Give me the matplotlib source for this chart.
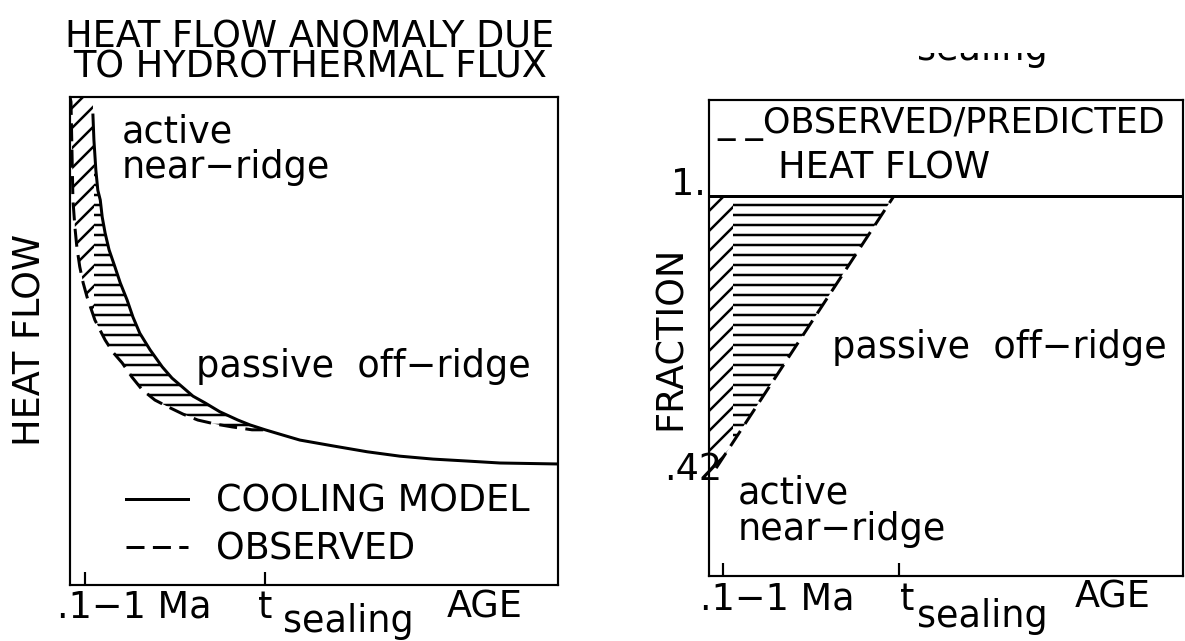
import matplotlib
matplotlib.use("Agg")
import matplotlib.pyplot as plt
from matplotlib.patches import Polygon, Rectangle
from matplotlib.transforms import Bbox, TransformedBbox

# ---------------- data ----------------
# left panel: heat flow vs age (arbitrary units)
cooling_age = [0.47, 0.49, 0.53, 0.57, 0.62, 0.66, 0.72, 0.80, 0.92, 1.03, 1.17,
               1.29, 1.43, 1.64, 1.89, 2.09, 2.30, 2.52, 2.77, 3.07, 3.44, 3.69,
               4.00, 4.37, 4.71, 5.39, 6.09, 6.76, 7.44, 8.14, 8.81, 10.0]
cooling_hf = [9.63, 9.12, 8.50, 8.09, 7.89, 7.54, 7.21, 6.87, 6.52, 6.19, 5.84,
              5.49, 5.16, 4.82, 4.47, 4.24, 4.06, 3.87, 3.73, 3.55, 3.38, 3.28,
              3.18, 3.07, 2.97, 2.85, 2.73, 2.64, 2.58, 2.54, 2.50, 2.48]
observed_age = [0.0, 0.02, 0.04, 0.06, 0.10, 0.14, 0.20, 0.27, 0.35, 0.51, 0.72,
                0.88, 1.07, 1.27, 1.48, 1.74, 2.01, 2.32, 2.62, 2.97, 3.32, 3.73,
                4.00]
observed_hf = [10.0, 9.9, 8.91, 7.89, 7.34, 6.93, 6.52, 6.19, 5.90, 5.43, 5.02,
               4.77, 4.55, 4.26, 4.00, 3.79, 3.65, 3.50, 3.38, 3.30, 3.24, 3.18,
               3.18]

# right panel: observed / predicted fraction
ratio_age = [0.15, 3.9]
ratio_frac = [0.42, 1.0]
predicted_frac = 1.0

active_limit = 0.5        # near-ridge / off-ridge hatch boundary (age units)
sealing_age = 4.0
tick_ages = [0.3, 4.0]
tick_labels = [".1\u22121 Ma", "t", "sealing", "AGE"]
y_labels = ["1.", ".42"]

# ---------------- figure ----------------
W, H, DPI = 1185, 641, 120
plt.rcParams["font.family"] = ["DejaVu Sans"]
plt.rcParams["hatch.linewidth"] = 1.5
FS = 22
LW = 1.8
DASH = (0, (6, 2.8))

fig = plt.figure(figsize=(W / DPI, H / DPI), dpi=DPI)


def fx(px):
    return px / W


def fy(py):
    return 1 - py / H


def ftext(px, py, s, **kw):
    kw.setdefault("fontsize", FS)
    kw.setdefault("va", "baseline")
    return fig.text(fx(px), fy(py), s, **kw)


def style_axes(ax):
    for sp in ax.spines.values():
        sp.set_linewidth(1.3)
    ax.set_xticks(tick_ages)
    ax.set_yticks([])
    ax.tick_params(axis="x", direction="in", length=8, width=1.3,
                   labelbottom=False)


def hatched(ax, verts, ymin, ymax):
    diag = Polygon(verts, closed=True, facecolor="none", edgecolor="black",
                   lw=0, hatch="//")
    ax.add_patch(diag)
    diag.set_clip_path(Rectangle((0, ymin), active_limit, ymax - ymin,
                                 transform=ax.transData))
    horiz = Polygon(verts, closed=True, facecolor="none", edgecolor="black",
                    lw=0, hatch="--")
    ax.add_patch(horiz)
    horiz.set_clip_path(Rectangle((active_limit, ymin), 10 - active_limit,
                                  ymax - ymin, transform=ax.transData))


# ---- left panel ----
ax1 = fig.add_axes([fx(70), fy(585), 488 / W, 488 / H])
ax1.set_xlim(0, 10)
ax1.set_ylim(0, 10)
style_axes(ax1)

n_seal = cooling_age.index(sealing_age)
verts1 = ([(0, 10)] + list(zip(observed_age, observed_hf))
          + list(zip(cooling_age[:n_seal + 1], cooling_hf[:n_seal + 1]))[::-1]
          + [(cooling_age[0], 10)])
hatched(ax1, verts1, 0, 10)

ax1.plot(cooling_age, cooling_hf, color="black", lw=LW, label="COOLING MODEL")
ax1.plot(observed_age, observed_hf, color="black", lw=LW, ls=DASH,
         label="OBSERVED")
ax1.legend(loc="lower left", bbox_to_anchor=(0.115, 0.035), frameon=False,
           fontsize=FS, handlelength=1.7, handletextpad=0.75,
           labelspacing=0.3, borderpad=0, borderaxespad=0)

# ---- right panel ----
ax2 = fig.add_axes([fx(709), fy(576), 474 / W, 476 / H])
ax2.set_xlim(0, 10)
ax2.set_ylim(0.19, 1.205)
style_axes(ax2)
ax2.axhline(predicted_frac, color="black", lw=LW)
verts2 = [(0, predicted_frac), (0, ratio_frac[0])] + list(zip(ratio_age, ratio_frac))
hatched(ax2, verts2, 0.19, predicted_frac)
ax2.plot(ratio_age, ratio_frac, color="black", lw=LW, ls=DASH)

# ---- texts ----
ftext(310, 78, "HEAT FLOW ANOMALY DUE\nTO HYDROTHERMAL FLUX", ha="center",
      multialignment="center", linespacing=0.78)
ftext(122, 143, "active")
ftext(122, 178, "near\u2212ridge")
ftext(196, 377, "passive  off\u2212ridge")
fig.text(fx(30), fy(340), "HEAT FLOW", fontsize=FS, rotation=90,
         ha="center", va="center")

ftext(57, 618, tick_labels[0])
ftext(258, 618, tick_labels[1])
ftext(283, 632, tick_labels[2])
ftext(447, 618, tick_labels[3])

ftext(717, 133, "_ _OBSERVED/PREDICTED", fontsize=21)
ftext(778, 178, "HEAT FLOW")
ftext(706, 195, y_labels[0], ha="right")
ftext(722, 480, y_labels[1], ha="right")
fig.text(fx(670), fy(338), "FRACTION", fontsize=FS, rotation=90,
         ha="center", va="center")
ftext(832, 358, "passive  off\u2212ridge")
ftext(738, 503, "active")
ftext(738, 540, "near\u2212ridge")

ftext(700, 610, tick_labels[0])
ftext(900, 610, tick_labels[1])
ftext(917, 627, tick_labels[2])
ftext(1075, 608, tick_labels[3])

# clipped subscript from a panel above (only its lower part shows)
cut = ftext(917, 60, tick_labels[2])
cut.set_clip_box(TransformedBbox(Bbox([[fx(880), 0.0], [fx(1080), fy(53)]]),
                                 fig.transFigure))
cut.set_clip_on(True)
fig.add_artist(Rectangle((fx(880), fy(53)), fx(200), 1 - fy(53),
                         transform=fig.transFigure, facecolor="white",
                         edgecolor="none", zorder=10))

fig.savefig("out.png", dpi=DPI, facecolor="white")
